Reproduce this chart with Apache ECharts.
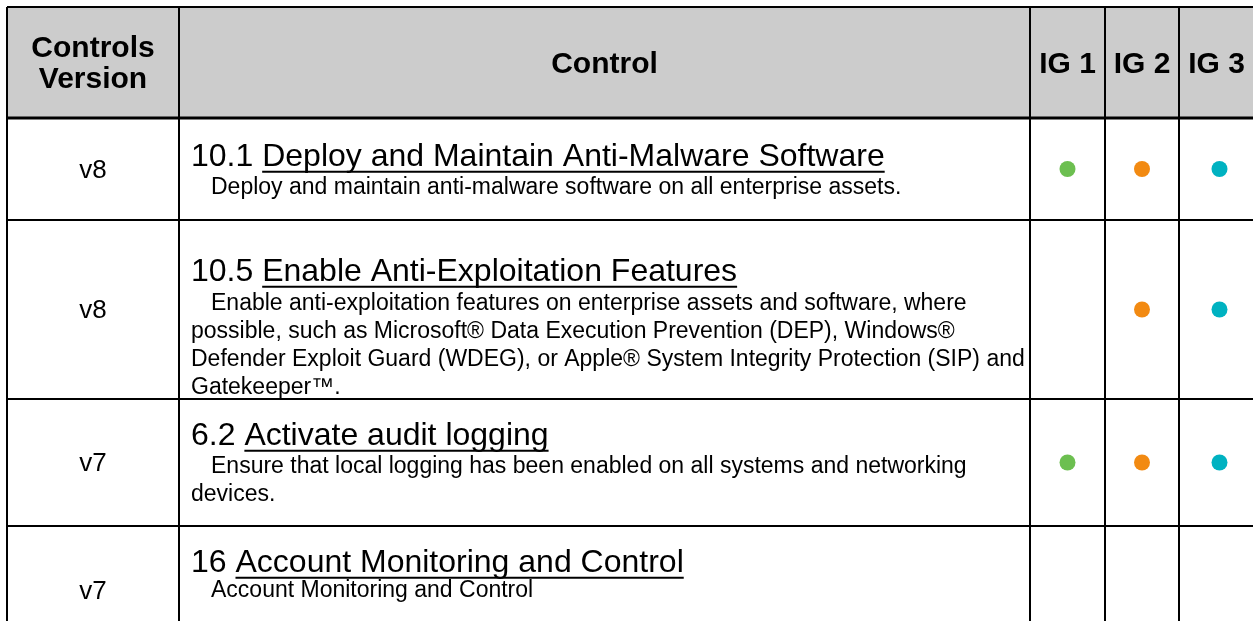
<!DOCTYPE html>
<html><head><meta charset="utf-8">
<script src="https://cdn.jsdelivr.net/npm/echarts@6/dist/echarts.min.js"></script>
<style>html,body{margin:0;padding:0;background:#fff}#c{width:1253px;height:621px}</style>
</head><body><div id="c"></div>
<script>
// ---- data ----
const headerLabels = ['Controls\nVersion', 'Control', 'IG 1', 'IG 2', 'IG 3'];
const versions = ['v8', 'v8', 'v7', 'v7'];
const controlIds = ['10.1', '10.5', '6.2', '16'];
const controlTitles = [
  'Deploy and Maintain Anti-Malware Software',
  'Enable Anti-Exploitation Features',
  'Activate audit logging',
  'Account Monitoring and Control'
];
const controlDescs = [
  'Deploy and maintain anti-malware software on all enterprise assets.',
  'Enable anti-exploitation features on enterprise assets and software, where\npossible, such as Microsoft® Data Execution Prevention (DEP), Windows®\nDefender Exploit Guard (WDEG), or Apple® System Integrity Protection (SIP) and\nGatekeeper™.',
  'Ensure that local logging has been enabled on all systems and networking\ndevices.',
  'Account Monitoring and Control'
];
const ig1 = [true, false, true, false];
const ig2 = [true, true, true, false];
const ig3 = [true, true, true, false];
const igColors = ['#6CBF50', '#F28A12', '#00B2C1'];

// ---- layout ----
const W = 1253, H = 621;
const colEdges = [7, 179, 1030, 1105, 1179, 1262];
const rowEdges = [7, 118, 220, 399, 526, 654];
const FONT = '"Liberation Sans", Arial, sans-serif';
const titleSize = 32, descSize = 23, headSize = 30, verSize = 26;
const dy = 1.8; // visual centring offset for text
const titleY = [155, 270, 434, 561];
const descY0 = [186, 302, 465, 589];
const descLH = 27.8;
const textX = 191, indent = 20;

const mctx = document.createElement('canvas').getContext('2d');
function measure(t, font){ mctx.font = font; return mctx.measureText(t).width; }

function renderItem(params, api){
  const r = params.dataIndex;
  const ch = [];
  const y0 = rowEdges[r], y1 = rowEdges[r + 1];
  const P = (x, y) => api.coord([x, y]);
  if (r === 0) {
    const a = P(colEdges[0], y0), b = P(colEdges[5], y1);
    ch.push({type:'rect', shape:{x:a[0], y:a[1], width:b[0]-a[0], height:b[1]-a[1]}, style:{fill:'#cccccc'}});
    const hf = 'bold ' + headSize + 'px ' + FONT;
    const hy = (y0 + y1) / 2 + dy;
    const lines = headerLabels[0].split('\n');
    lines.forEach((t, i) => {
      const p = P((colEdges[0]+colEdges[1])/2, hy + (i - (lines.length-1)/2) * 31.5);
      ch.push({type:'text', style:{text:t, x:p[0], y:p[1], font:hf, fill:'#000', align:'center', verticalAlign:'middle'}});
    });
    for (let c = 1; c < 5; c++) {
      const p = P((colEdges[c]+colEdges[c+1]) / 2 + (c === 4 ? -4 : 0), hy);
      ch.push({type:'text', style:{text:headerLabels[c], x:p[0], y:p[1], font:hf, fill:'#000', align:'center', verticalAlign:'middle'}});
    }
  } else {
    const i = r - 1;
    const vp = P((colEdges[0]+colEdges[1])/2, (y0+y1)/2 + dy);
    ch.push({type:'text', style:{text:versions[i], x:vp[0], y:vp[1], font:verSize + 'px ' + FONT, fill:'#000', align:'center', verticalAlign:'middle'}});
    const tf = titleSize + 'px ' + FONT;
    const tp = P(textX, titleY[i] + dy);
    const idPart = controlIds[i] + ' ';
    const idW = measure(idPart, tf);
    ch.push({type:'text', style:{text:idPart, x:tp[0], y:tp[1], font:tf, fill:'#000', align:'left', verticalAlign:'middle'}});
    ch.push({type:'text', style:{text:controlTitles[i], x:tp[0]+idW, y:tp[1], font:tf, fill:'#000', align:'left', verticalAlign:'middle'}});
    const tw = measure(controlTitles[i], tf);
    const uy = tp[1] + titleSize * 0.47;
    ch.push({type:'line', shape:{x1:tp[0]+idW, y1:uy, x2:tp[0]+idW+tw, y2:uy}, style:{stroke:'#000', lineWidth:2}});
    const df = descSize + 'px ' + FONT;
    controlDescs[i].split('\n').forEach((t, k) => {
      const p = P(textX + (k === 0 ? indent : 0), descY0[i] + k * descLH + dy);
      ch.push({type:'text', style:{text:t, x:p[0], y:p[1], font:df, fill:'#000', align:'left', verticalAlign:'middle'}});
    });
  }
  // grid lines
  const lw = 2;
  for (let c = 0; c < 5; c++) {
    const a = P(colEdges[c], y0), b = P(colEdges[c], y1);
    ch.push({type:'line', shape:{x1:a[0], y1:a[1], x2:b[0], y2:b[1]}, style:{stroke:'#000', lineWidth:lw}});
  }
  const t0 = P(colEdges[0], y0), t1 = P(colEdges[5], y0);
  ch.push({type:'line', shape:{x1:t0[0], y1:t0[1], x2:t1[0], y2:t1[1]}, style:{stroke:'#000', lineWidth: r === 1 ? 3 : lw}});
  return {type:'group', children: ch};
}

const dotData = [[], [], []];
[ig1, ig2, ig3].forEach((arr, k) => arr.forEach((v, i) => {
  if (v) dotData[k].push([(colEdges[k+2] + colEdges[k+3]) / 2 + (k === 2 ? -1 : 0), (rowEdges[i+1] + rowEdges[i+2]) / 2]);
}));

const chart = echarts.init(document.getElementById('c'), null, {renderer:'canvas'});
chart.setOption({
  animation: false,
  grid: {left:0, right:0, top:0, bottom:0},
  xAxis: {type:'value', min:0, max:W, show:false},
  yAxis: {type:'value', min:0, max:H, inverse:true, show:false},
  series: [
    {type:'custom', renderItem, data:[0,1,2,3,4], silent:true, clip:false},
    ...dotData.map((d, k) => ({type:'scatter', data:d, symbol:'circle', symbolSize:16, itemStyle:{color:igColors[k], opacity:1}, silent:true, z:5}))
  ]
});
</script></body></html>
